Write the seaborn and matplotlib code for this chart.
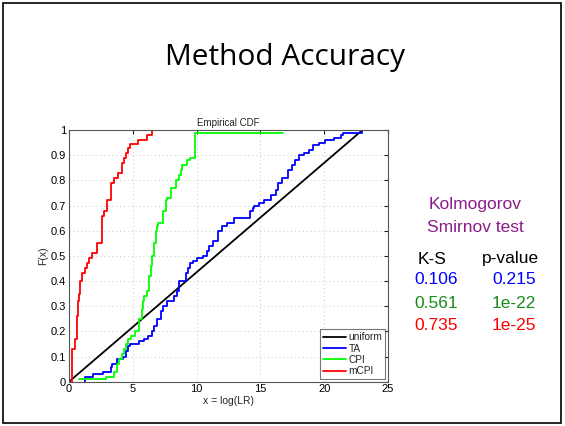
import matplotlib
matplotlib.use("Agg")
import matplotlib.pyplot as plt
import seaborn as sns
import pandas as pd
from matplotlib.patches import Rectangle

# ---- data ----
uniform_x = [0.0, 23.0]
uniform_F = [0.0, 1.0]

mcpi_x = [0.21, 0.21, 0.47, 0.6, 0.68, 0.78, 0.9, 1.0, 1.25, 1.44, 1.6, 1.83, 2.17, 2.6,
          2.77, 2.96, 3.3, 3.56, 3.87, 4.14, 4.3, 4.45, 4.6, 4.8, 5.4, 6.1, 6.5]
mcpi_F = [0.0, 0.13, 0.17, 0.26, 0.32, 0.35, 0.4, 0.43, 0.45, 0.47, 0.49, 0.51, 0.55, 0.66,
          0.68, 0.72, 0.79, 0.81, 0.83, 0.87, 0.89, 0.91, 0.93, 0.945, 0.96, 0.98, 1.0]

cpi_x = [0.75, 2.9, 3.5, 3.8, 3.95, 4.14, 4.3, 4.45, 4.66, 4.87, 5.2, 5.45, 5.5, 5.7, 5.8,
         5.9, 6.1, 6.28, 6.4, 6.5, 6.7, 6.8, 6.9, 7.0, 7.33, 7.6, 7.67, 8.0, 8.4, 8.6,
         8.75, 8.85, 9.24, 9.5, 9.8, 9.84, 16.8]
cpi_F = [0.01, 0.02, 0.04, 0.07, 0.09, 0.11, 0.13, 0.15, 0.17, 0.18, 0.2, 0.23, 0.25, 0.29,
         0.32, 0.34, 0.36, 0.42, 0.46, 0.5, 0.55, 0.6, 0.62, 0.63, 0.68, 0.72, 0.73, 0.77,
         0.8, 0.82, 0.84, 0.86, 0.88, 0.89, 0.89, 0.99, 0.99]

ta_x = [1.25, 1.25, 1.9, 2.7, 3.3, 3.4, 3.8, 4.2, 4.5, 4.6, 4.8, 5.5, 5.9, 6.2, 6.5, 6.7,
        6.9, 7.2, 7.4, 7.7, 8.2, 8.5, 8.6, 9.15, 9.3, 9.5, 9.7, 10.0, 10.5, 10.8, 11.0,
        11.3, 11.7, 12.0, 12.4, 12.9, 14.2, 14.4, 14.5, 14.9, 15.3, 15.8, 16.2, 16.4,
        16.7, 17.2, 17.5, 17.7, 18.0, 18.4, 18.8, 19.1, 19.6, 20.1, 20.8, 21.3, 21.5,
        23.0]
ta_F = [0.0, 0.02, 0.03, 0.04, 0.06, 0.07, 0.09, 0.10, 0.12, 0.14, 0.15, 0.16, 0.17, 0.18,
        0.20, 0.22, 0.25, 0.28, 0.30, 0.32, 0.34, 0.36, 0.40, 0.43, 0.45, 0.47, 0.48, 0.49,
        0.50, 0.52, 0.54, 0.56, 0.60, 0.62, 0.63, 0.65, 0.68, 0.69, 0.70, 0.71, 0.72, 0.74,
        0.76, 0.79, 0.81, 0.84, 0.86, 0.88, 0.90, 0.91, 0.92, 0.94, 0.95, 0.96, 0.97, 0.98,
        0.99, 1.0]

series_names = ["uniform", "TA", "CPI", "mCPI"]
series_colors = ["#000000", "#0000FF", "#00FF00", "#FF0000"]

ks_values = ["0.106", "0.561", "0.735"]
p_values = ["0.215", "1e-22", "1e-25"]
row_colors = ["#0000FF", "#1A8A1A", "#FF0000"]

# ---- figure ----
sns.set_style("white")
plt.rcParams["font.family"] = ["Liberation Sans", "DejaVu Sans"]

fig = plt.figure(figsize=(5.65, 4.26), dpi=100)
fig.patch.set_facecolor("white")
ax = fig.add_axes([69 / 565, 1 - 381.7 / 426, 319 / 565, 251.7 / 426])

df_steps = pd.concat([
    pd.DataFrame({"x": ta_x, "F": ta_F, "s": "TA"}),
    pd.DataFrame({"x": cpi_x, "F": cpi_F, "s": "CPI"}),
    pd.DataFrame({"x": mcpi_x, "F": mcpi_F, "s": "mCPI"}),
])
df_uni = pd.DataFrame({"x": uniform_x, "F": uniform_F, "s": "uniform"})

lw = 1.3
sns.lineplot(data=df_uni, x="x", y="F", color=series_colors[0], lw=lw, ax=ax,
             estimator=None, sort=False, legend=False)
for name, col in zip(series_names[1:], series_colors[1:]):
    sub = df_steps[df_steps["s"] == name]
    sns.lineplot(data=sub, x="x", y="F", color=col, lw=lw, ax=ax, estimator=None,
                 sort=False, drawstyle="steps-post", legend=False)

ax.set_xlim(0, 25)
ax.set_ylim(0, 1)
ax.set_xticks([0, 5, 10, 15, 20, 25])
ax.set_yticks([i / 10 for i in range(11)])
ax.set_yticklabels(["0", "0.1", "0.2", "0.3", "0.4", "0.5", "0.6", "0.7", "0.8", "0.9", "1"])
ax.tick_params(direction="in", length=3, labelsize=8, top=True, right=True,
               pad=2, colors="#222222", labelcolor="black")
ax.grid(True, linestyle=(0, (1, 3)), color="#c8c8c8", lw=0.7)
for sp in ax.spines.values():
    sp.set_color("#555555")
    sp.set_linewidth(0.8)
ax.set_xlabel("x = log(LR)", fontsize=7.5, labelpad=1)
ax.set_ylabel("F(x)", fontsize=7.5, labelpad=2)
ax.set_title("Empirical CDF", fontsize=7, pad=3)

handles = [plt.Line2D([], [], color=c, lw=lw) for c in series_colors]
leg = ax.legend(handles, series_names, loc="lower right", fontsize=7.3, frameon=True,
                fancybox=False, borderpad=0.3, labelspacing=0.12, handlelength=2.2,
                handletextpad=0.3, borderaxespad=0.25)
leg.get_frame().set_edgecolor("#555555")
leg.get_frame().set_linewidth(0.8)

# slide title
fig.text(285 / 565, 1 - 57 / 426, "Method Accuracy", ha="center", va="center",
         fontsize=21.5, family=["Open Sans", "DejaVu Sans"], color="black")

# right-side annotations
purple = "#8B1A8B"
fig.text(475 / 565, 1 - 205 / 426, "Kolmogorov", ha="center", va="center",
         fontsize=12.5, color=purple)
fig.text(475 / 565, 1 - 227 / 426, "Smirnov test", ha="center", va="center",
         fontsize=12.5, color=purple)
fig.text(432 / 565, 1 - 259 / 426, "K-S", ha="center", va="center", fontsize=12.5,
         color="black")
fig.text(510 / 565, 1 - 259 / 426, "p-value", ha="center", va="center", fontsize=12.5,
         color="black")
row_y = [280, 303, 325]
for ks, pv, c, y in zip(ks_values, p_values, row_colors, row_y):
    fig.text(436 / 565, 1 - y / 426, ks, ha="center", va="center", fontsize=12.5, color=c)
    fig.text(514 / 565, 1 - y / 426, pv, ha="center", va="center", fontsize=12.5, color=c)

# slide border
fig.patches.append(Rectangle((3 / 565, 3 / 426), 558 / 565, 420 / 426,
                             transform=fig.transFigure, fill=False, edgecolor="black",
                             lw=1.2))

fig.savefig("out.png", dpi=100)
